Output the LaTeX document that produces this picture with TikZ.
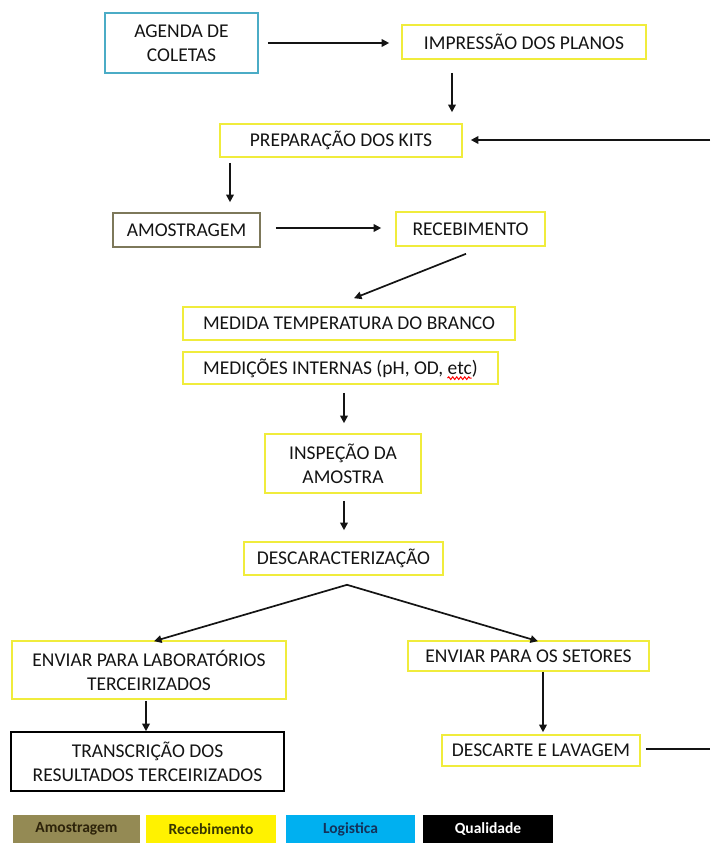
\documentclass[tikz,border=0pt]{standalone}
\usepackage{fontspec}
\setmainfont{Carlito}
\usetikzlibrary{arrows.meta,decorations.pathmorphing}
\definecolor{yel}{RGB}{240,236,60}
\definecolor{blu}{RGB}{75,172,198}
\definecolor{oliv}{RGB}{125,120,90}
\definecolor{tan}{RGB}{148,138,84}
\definecolor{lblue}{RGB}{0,176,240}
\definecolor{txt}{RGB}{20,20,20}
\definecolor{arrc}{RGB}{20,20,20}
\newcommand{\nodefont}{\fontsize{19.5}{24}\selectfont}
\newcommand{\legfont}{\fontsize{15.5}{17}\selectfont\bfseries}
\begin{document}
\begin{tikzpicture}[x=1pt,y=-1pt,
  box/.style={draw=yel, line width=1.6pt, inner sep=0pt, align=center, font=\nodefont, text=txt},
  arr/.style={draw=arrc, line width=1.7pt, -{Triangle[length=7.5pt,width=7.5pt]}},
  ln/.style={draw=arrc, line width=1.7pt},
  leg/.style={inner sep=0pt, minimum height=28pt, font=\legfont, anchor=north}]

\useasboundingbox (0,0) rectangle (710,843);

% nodes
\node[box, draw=blu, minimum width=153pt, minimum height=60pt] (agenda) at (181.5,43) {AGENDA DE\\COLETAS};
\node[box, minimum width=244pt, minimum height=34pt] (impressao) at (524,42) {IMPRESSÃO DOS PLANOS};
\node[box, minimum width=242pt, minimum height=33pt] (prep) at (341,140.5) {PREPARAÇÃO DOS KITS};
\node[box, draw=oliv, minimum width=147pt, minimum height=34pt] (amostragem) at (186.5,230) {AMOSTRAGEM};
\node[box, minimum width=149pt, minimum height=34pt] (receb) at (470.5,229) {RECEBIMENTO};
\node[box, minimum width=332pt, minimum height=33pt] (medida) at (349,323.5) {MEDIDA TEMPERATURA DO BRANCO};
\node[box, minimum width=315pt, minimum height=32pt] (medicoes) at (340.5,368) {MEDIÇÕES INTERNAS (pH, OD, etc)};
\node[box, minimum width=156pt, minimum height=59pt] (inspecao) at (343,463.5) {INSPEÇÃO DA\\AMOSTRA};
\node[box, minimum width=199pt, minimum height=33pt] (descar) at (343.5,558.5) {DESCARACTERIZAÇÃO};
\node[box, minimum width=274pt, minimum height=58pt] (envlab) at (149,670) {ENVIAR PARA LABORATÓRIOS\\TERCEIRIZADOS};
\node[box, minimum width=241pt, minimum height=30pt] (envset) at (528.5,656) {ENVIAR PARA OS SETORES};
\node[box, draw=black, minimum width=273pt, minimum height=59pt] (transc) at (147.5,761.5) {TRANSCRIÇÃO DOS\\RESULTADOS TERCEIRIZADOS};
\node[box, minimum width=198pt, minimum height=31pt] (descarte) at (541,750.5) {DESCARTE E LAVAGEM};

% spell-check squiggle under "etc"
\draw[red, line width=1pt, decorate, decoration={snake, amplitude=1.3pt, segment length=4pt}]
  ([xshift=107pt, yshift=-4pt]medicoes.base) -- ++(24pt,0pt);

% legend
\node[leg, fill=tan, minimum width=127pt, text={rgb,255:red,45;green,35;blue,10}] (lA) at (76.5,815) {Amostragem};
\node[leg, fill=yellow, minimum width=130pt, text={rgb,255:red,55;green,55;blue,0}] (lR) at (211,815) {Recebimento};
\node[leg, fill=lblue, minimum width=129pt, text={rgb,255:red,20;green,50;blue,90}] (lL) at (350.5,815) {Logistica};
\node[leg, fill=black, minimum width=130pt, text=white] (lQ) at (488,815) {Qualidade};

% edge coordinates
\coordinate (eR) at (710,749);
\coordinate (eT) at (710,140);
\coordinate (apex) at ([xshift=3.5pt,yshift=-9pt]descar.south);

% connectors
\draw[arr, shorten <=9pt, shorten >=12pt] (agenda.east) -- (agenda.east -| impressao.west);
\draw[arr] ([xshift=-72pt,yshift=-13pt]impressao.south) -- ([xshift=111pt,yshift=11pt]prep.north);
\draw[arr] ([xshift=-111pt,yshift=-5pt]prep.south) -- ([xshift=43.5pt,yshift=10pt]amostragem.north);
\draw[arr, shorten <=15pt, shorten >=14pt] ([yshift=2pt]amostragem.east) -- ([yshift=2pt]amostragem.east -| receb.west);
\draw[arr] ([xshift=-4.5pt,yshift=-7pt]receb.south) -- ([xshift=5pt,yshift=8pt]medida.north);
\draw[arr] ([xshift=3.5pt,yshift=-8pt]medicoes.south) -- ([xshift=1pt,yshift=10pt]inspecao.north);
\draw[arr] ([xshift=1pt,yshift=-7pt]inspecao.south) -- ([xshift=0.5pt,yshift=11pt]descar.north);
\draw[arr] (apex) -- ([xshift=5pt,yshift=-1pt]envlab.north);
\draw[arr] (apex) -- ([xshift=9.5pt,yshift=-1pt]envset.north);
\draw[arr] ([xshift=-3pt,yshift=-1pt]envlab.south) -- ([xshift=-1.5pt]transc.north);
\draw[arr] ([xshift=14.5pt]envset.south) -- ([xshift=2pt,yshift=2pt]descarte.north);
\draw[ln, shorten <=5pt] ([yshift=1.5pt]descarte.east) -- (eR);
\draw[arr, shorten >=8pt] (eT) -- (eT -| prep.east);
\end{tikzpicture}
\end{document}
